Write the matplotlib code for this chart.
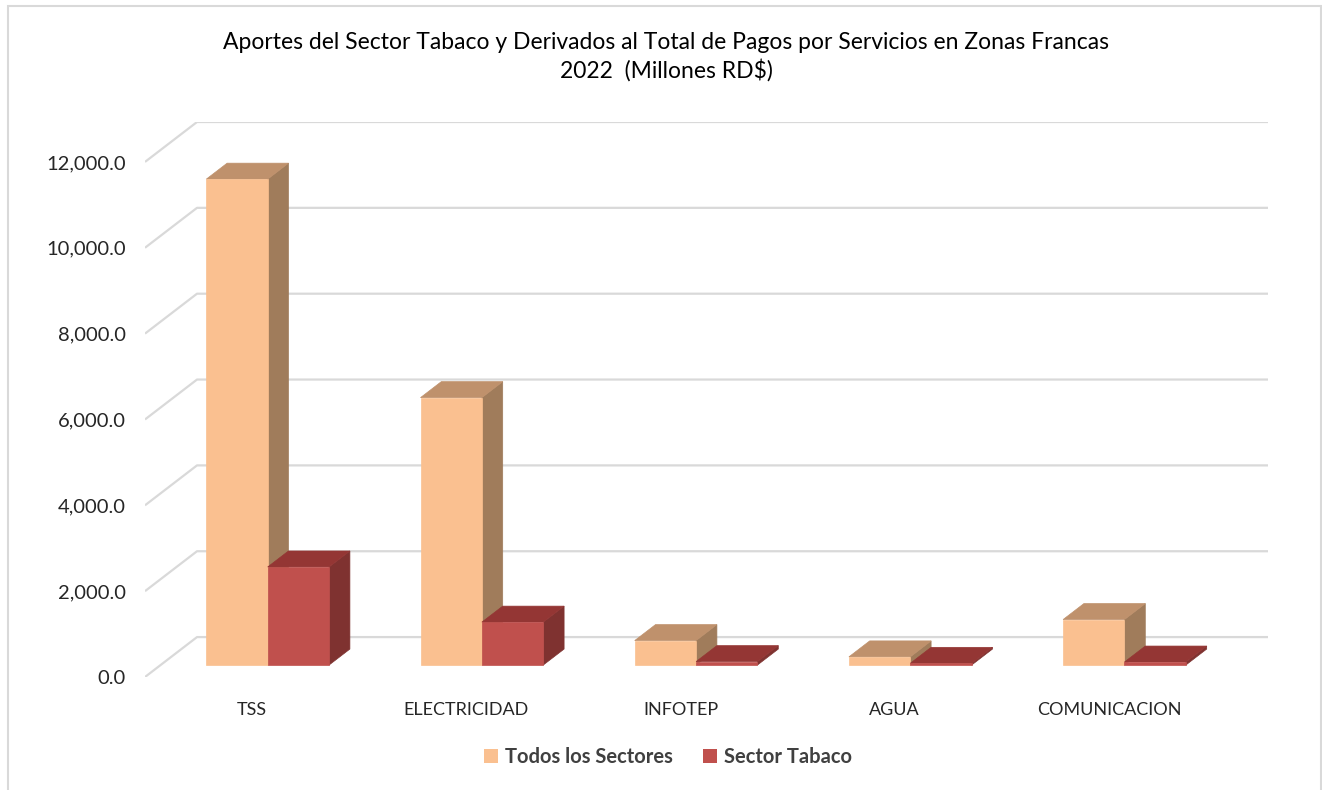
import matplotlib
matplotlib.use("Agg")
import matplotlib.pyplot as plt
from matplotlib.patches import Polygon, Patch, Rectangle

plt.rcParams['font.family'] = ['Lato', 'DejaVu Sans']

# ---- data ----
categories = ["TSS", "ELECTRICIDAD", "INFOTEP", "AGUA", "COMUNICACION"]
todos_sectores = [11320, 6230, 570, 190, 1060]
sector_tabaco = [2285, 1000, 80, 40, 70]
series_names = ["Todos los Sectores", "Sector Tabaco"]
yticks = [0, 2000, 4000, 6000, 8000, 10000, 12000]
title = "Aportes del Sector Tabaco y Derivados al Total de Pagos por Servicios en Zonas Francas\n2022  (Millones RD$)"

# ---- styles ----
face_colors = [("#FAC090", "#BF916C", "#A07C5B"),   # front, top, side
               ("#C0504D", "#943634", "#7F3230")]
grid_color = "#D9D9D9"

# oblique 3D parameters (data units)
DX = 0.2428          # horizontal depth offset in category units
DY = 930.0           # vertical depth offset in value units
d_front, d_back = 0.3, 0.7
bar_w = 0.2866

W, H = 1322, 790
fig = plt.figure(figsize=(W / 100, H / 100), dpi=100)
ax = fig.add_axes([145 / W, (H - 677) / H, (1268 - 145) / W, (677 - 122) / H])
n = len(categories)
ax.set_xlim(0, n + DX)
ax.set_ylim(0, 12000 + DY)
for s in ax.spines.values():
    s.set_visible(False)

# gridlines (side wall + back wall)
for v in yticks:
    ax.plot([0, DX, n + DX], [v, v + DY, v + DY], color=grid_color, lw=1.6,
            zorder=1, solid_capstyle='butt')

# bars
ox, oy = d_front * DX, d_front * DY
ddx, ddy = (d_back - d_front) * DX, (d_back - d_front) * DY
for i in range(n):
    center = i + 0.5
    for k, vals in enumerate([todos_sectores, sector_tabaco]):
        v = vals[i]
        x0 = center - bar_w + k * bar_w + ox
        y0 = oy
        fc, tc, sc = face_colors[k]
        front = [(x0, y0), (x0 + bar_w, y0), (x0 + bar_w, y0 + v), (x0, y0 + v)]
        top = [(x0, y0 + v), (x0 + bar_w, y0 + v),
               (x0 + bar_w + ddx, y0 + v + ddy), (x0 + ddx, y0 + v + ddy)]
        side = [(x0 + bar_w, y0), (x0 + bar_w + ddx, y0 + ddy),
                (x0 + bar_w + ddx, y0 + v + ddy), (x0 + bar_w, y0 + v)]
        z = 3 + i * 2 + k
        for pts, c in ((side, sc), (top, tc), (front, fc)):
            ax.add_patch(Polygon(pts, closed=True, facecolor=c, edgecolor=c,
                                 lw=0.5, zorder=z))

# axes ticks
ax.set_yticks(yticks)
ax.set_yticklabels([f"{t:,.1f}" for t in yticks], fontsize=14.5, color="#262626")
ax.set_xticks([i + 0.5 for i in range(n)])
ax.set_xticklabels(categories, fontsize=13, color="#262626")
ax.tick_params(axis='both', length=0)
ax.tick_params(axis='y', pad=14)
ax.tick_params(axis='x', pad=18)

fig.text(666 / W, 1 - 57 / H, title, ha='center', va='center', fontsize=16.5,
         color="#000000", linespacing=1.3)

handles = [Patch(facecolor=face_colors[0][0], edgecolor='none'),
           Patch(facecolor=face_colors[1][0], edgecolor='none')]
fig.legend(handles, series_names, loc='center', bbox_to_anchor=(668 / W, 1 - 757 / H),
           ncol=2, frameon=False, prop={'weight': 'bold', 'size': 14.5},
           handlelength=0.7, handleheight=0.7, handletextpad=0.35,
           columnspacing=1.5, labelcolor="#404040")

fig.add_artist(Rectangle((8 / W, -0.05), (1320.5 - 8) / W, 1.05 - 6 / H,
                         transform=fig.transFigure, fill=False,
                         edgecolor=grid_color, lw=1.5))

fig.savefig("out.png", dpi=100, facecolor="white")
